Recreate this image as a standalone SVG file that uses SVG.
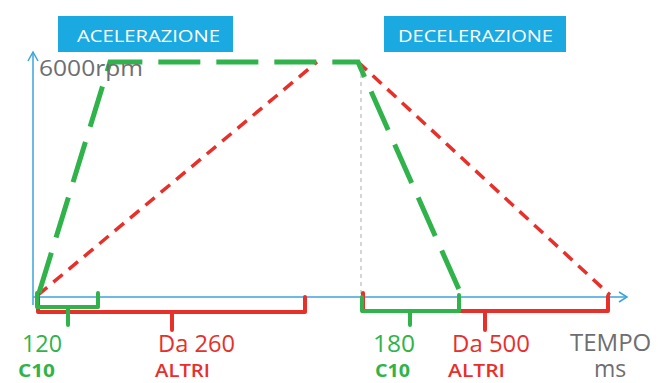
<svg xmlns="http://www.w3.org/2000/svg" width="658" height="383" viewBox="0 0 658 383">
<defs>
<style>
.ttl{font-family:"Open Sans","Liberation Sans",Arial,sans-serif;font-size:17px;fill:#ffffff}
.box{fill:#1ba9e1}
.ax{stroke:#3ba3dc;stroke-width:1.5;fill:none}
.g{stroke:#2fb34a;fill:none;stroke-linecap:butt}
.r{stroke:#e8302a;fill:none}
.br{stroke-width:4;stroke-linejoin:round;stroke-linecap:round;fill:none}
.t{font-family:"Open Sans","Liberation Sans",Arial,sans-serif}
.gt{fill:#2fb34a}
.rt{fill:#e8302a}
.kt{fill:#6d6e71}
</style>
</defs>
<rect width="658" height="383" fill="#ffffff"/>
<g id="title-acc">
<rect class="box" x="58" y="16" width="175" height="36"/>
<text class="ttl" x="77" y="42" textLength="143" lengthAdjust="spacingAndGlyphs">ACELERAZIONE</text>
</g>
<g id="title-dec">
<rect class="box" x="384" y="16" width="182" height="36"/>
<text class="ttl" x="398" y="42" textLength="155" lengthAdjust="spacingAndGlyphs">DECELERAZIONE</text>
</g>
<g id="axes">
<path class="ax" d="M33,305 V53"/>
<polyline class="ax" points="28,61 33,52 38,61"/>
<path class="ax" d="M33,297 H627"/>
<polyline class="ax" points="619,292 627,297 619,302"/>
</g>
<g id="connectors">
<path d="M361,66 V297" stroke="#c8c8c8" stroke-width="1.5" stroke-dasharray="4 4" fill="none"/>
<path class="r" d="M38,295 L317,62 M358,62 L610,295" stroke-width="3.5" stroke-dasharray="12 8"/>
<path class="g" d="M39,293 L110,62 H358 L461,294" stroke-width="5" stroke-dasharray="42 16"/>
</g>
<g id="rpm-label">
<text class="t kt" x="39" y="76" font-size="22" textLength="104" lengthAdjust="spacingAndGlyphs">6000rpm</text>
</g>
<g id="brace-altri-acc">
<path class="r br" d="M38,297 V312 H305 V297 M172,312 V330"/>
</g>
<g id="brace-c10-acc">
<path class="g br" stroke-width="5" d="M37,293 V307 H98 V293 M68,307 V325"/>
</g>
<g id="brace-altri-dec">
<path class="r br" d="M363,293 V311 H608 V296 M485,311 V330"/>
</g>
<g id="brace-c10-dec">
<path class="g br" stroke-width="5" d="M362,297 V311 H459 V295 M410,311 V325"/>
</g>
<g id="label-120">
<text class="t gt" x="22" y="352" font-size="24" textLength="40" lengthAdjust="spacingAndGlyphs">120</text>
<text class="t gt" x="18" y="377" font-size="18" font-weight="bold" textLength="37" lengthAdjust="spacingAndGlyphs">C10</text>
</g>
<g id="label-260">
<text class="t rt" x="158" y="352" font-size="24" textLength="77" lengthAdjust="spacingAndGlyphs">Da 260</text>
<text class="t rt" x="155" y="377" font-size="18" font-weight="600" textLength="55" lengthAdjust="spacingAndGlyphs">ALTRI</text>
</g>
<g id="label-180">
<text class="t gt" x="373" y="352" font-size="24" textLength="42" lengthAdjust="spacingAndGlyphs">180</text>
<text class="t gt" x="375" y="377" font-size="18" font-weight="bold" textLength="35" lengthAdjust="spacingAndGlyphs">C10</text>
</g>
<g id="label-500">
<text class="t rt" x="452" y="352" font-size="24" textLength="78" lengthAdjust="spacingAndGlyphs">Da 500</text>
<text class="t rt" x="448" y="377" font-size="18" font-weight="600" textLength="57" lengthAdjust="spacingAndGlyphs">ALTRI</text>
</g>
<g id="label-tempo">
<text class="t kt" font-size="24"><tspan x="570" y="351">TEMPO</tspan><tspan x="594" y="377" font-size="23">ms</tspan></text>
</g>
</svg>
